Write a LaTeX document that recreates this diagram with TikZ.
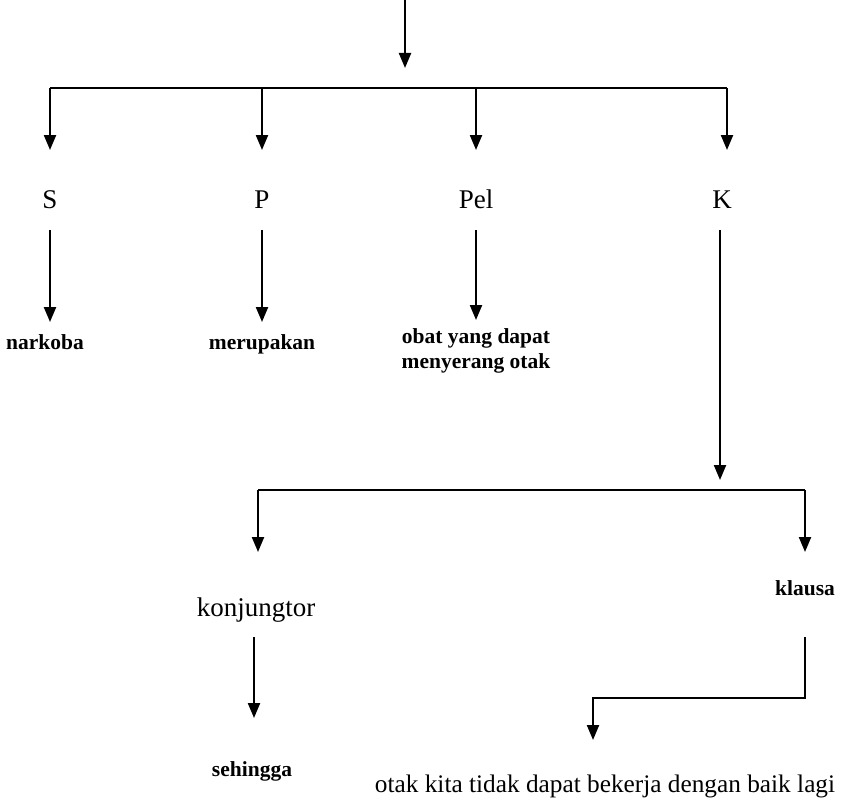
\documentclass[tikz,border=0pt]{standalone}
\usepackage{fontspec}
\setmainfont{Liberation Serif}
\usetikzlibrary{arrows.meta}
\begin{document}
\begin{tikzpicture}[x=1pt,y=-1pt,
  link/.style={line width=2.2pt, line join=miter},
  arr/.style={link,-{Triangle[width=12pt,length=15pt]}},
  role/.style={font=\fontsize{27}{30}\selectfont, inner sep=0pt, anchor=base},
  word/.style={font=\fontsize{21.5}{24}\selectfont\bfseries, inner sep=0pt, anchor=base},
  plain/.style={font=\fontsize{25}{29}\selectfont, inner sep=0pt, anchor=base}]
\useasboundingbox[fill=white] (0,0) rectangle (842,800);

% ---- sentence functions ----
\coordinate (root) at (405,0);
\coordinate (rootend) at (405,68);
\coordinate (busL) at (50,88);
\coordinate (busR) at (727,88);
\coordinate (busS) at (50,88);
\coordinate (busP) at (262,88);
\coordinate (busPel) at (476,88);
\coordinate (busK) at (727,88);

\node[role] (S) at (50,208) {S};
\node[role] (P) at (262,208) {P};
\node[role] (Pel) at (476,208) {Pel};
\node[role] (K) at (722,208) {K};

\draw[arr] (root) -- (rootend);
\draw[link] (busL) -- (busR);
\draw[arr] (busS) -- (S.north |- 0,150);
\draw[arr] (busP) -- (P.north |- 0,150);
\draw[arr] (busPel) -- (Pel.north |- 0,150);
\draw[arr] (busK) -- (busK |- 0,150);

% ---- fillers ----
\node[word] (narkoba) at (45,349) {narkoba};
\node[word] (merupakan) at (262,349) {merupakan};
\node[word] (obat) at (476,343) {obat yang dapat};
\node[word] (otak) at (476,368) {menyerang otak};

\draw[arr] (S.south |- 0,230) -- (S.south |- 0,322);
\draw[arr] (P.south |- 0,230) -- (P.south |- 0,322);
\draw[arr] (Pel.south |- 0,230) -- (Pel.south |- 0,320);

% ---- adverbial clause ----
\coordinate (kTop) at (720,230);
\coordinate (kEnd) at (720,480);
\draw[arr] (kTop) -- (kEnd);

\coordinate (lowL) at (258,490);
\coordinate (lowR) at (805,490);
\draw[link] (lowL) -- (lowR);

\node[plain, font=\fontsize{27}{30}\selectfont] (konj) at (256,616) {konjungtor};
\node[word] (klausa) at (805,595) {klausa};

\draw[arr] (lowL) -- (lowL |- 0,552);
\draw[arr] (lowR) -- (lowR |- 0,552);

\node[word] (sehingga) at (252,776) {sehingga};
\node[plain, font=\fontsize{25.3}{29}\selectfont] (isi) at (605,792) {otak kita tidak dapat bekerja dengan baik lagi};

\draw[arr] (254,637) -- (254,718);
\coordinate (kl1) at (805,637);
\coordinate (kl2) at (805,698);
\coordinate (kl3) at (593,698);
\coordinate (kl4) at (593,740);
\draw[arr] (kl1) -- (kl2) -- (kl3) -- (kl4);
\end{tikzpicture}
\end{document}
